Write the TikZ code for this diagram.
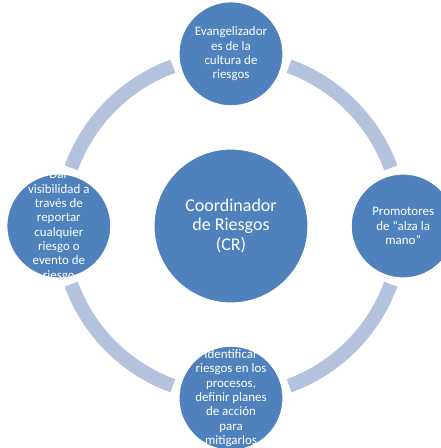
\documentclass[tikz,border=0pt]{standalone}
\usepackage{fontspec}
\setmainfont{Carlito}
\usetikzlibrary{positioning}
\definecolor{crblue}{RGB}{79,129,189}
\definecolor{ringblue}{RGB}{179,195,221}

\begin{document}
\begin{tikzpicture}[x=0.025cm,y=0.025cm,node distance=1.05cm,
	bubble/.style={circle,fill=crblue,draw=white,line width=0.8pt,minimum size=2.6cm,inner sep=0pt},
	hub/.style={bubble,minimum size=3.85cm},
	txt/.style={text=white,align=center,font=\fontsize{9.2}{10.2}\selectfont},
	ring/.style={draw=ringblue,line width=10pt}]
	
	\useasboundingbox (0,0) rectangle (441,448);
	
	\node[hub]     (cr)  at (231,222) {};
	\node[bubble]  (top)   [above=of cr] {};
	\node[bubble]  (right) [right=of cr] {};
	\node[bubble]  (bottom) [below=of cr] {};
	\node[bubble]  (left)  [left=of cr] {};
	
	\draw[ring] ([shift={(20:170)}]cr.center) arc[start angle=20, end angle=70, radius=170];
	\draw[ring] ([shift={(110:170)}]cr.center) arc[start angle=110, end angle=160, radius=170];
	\draw[ring] ([shift={(200:170)}]cr.center) arc[start angle=200, end angle=250, radius=170];
	\draw[ring] ([shift={(290:170)}]cr.center) arc[start angle=290, end angle=340, radius=170];
	
	\node[txt,font=\fontsize{12.8}{14.2}\selectfont] (cr-txt) at (cr) {Coordinador\\de Riesgos\\(CR)};
	\node[txt] (top-txt)    at (top)    {Evangelizador\\es de la\\cultura de\\riesgos};
	\node[txt] (right-txt)  at (right)  {Promotores\\de “alza la\\mano”};
	\node[txt] (bottom-txt) at (bottom) {Identificar\\riesgos en los\\procesos,\\definir planes\\de acción\\para\\mitigarlos};
	\node[txt] (left-txt)   at (left)   {Dar\\visibilidad a\\través de\\reportar\\cualquier\\riesgo o\\evento de\\riesgo};
\end{tikzpicture}
\end{document}
